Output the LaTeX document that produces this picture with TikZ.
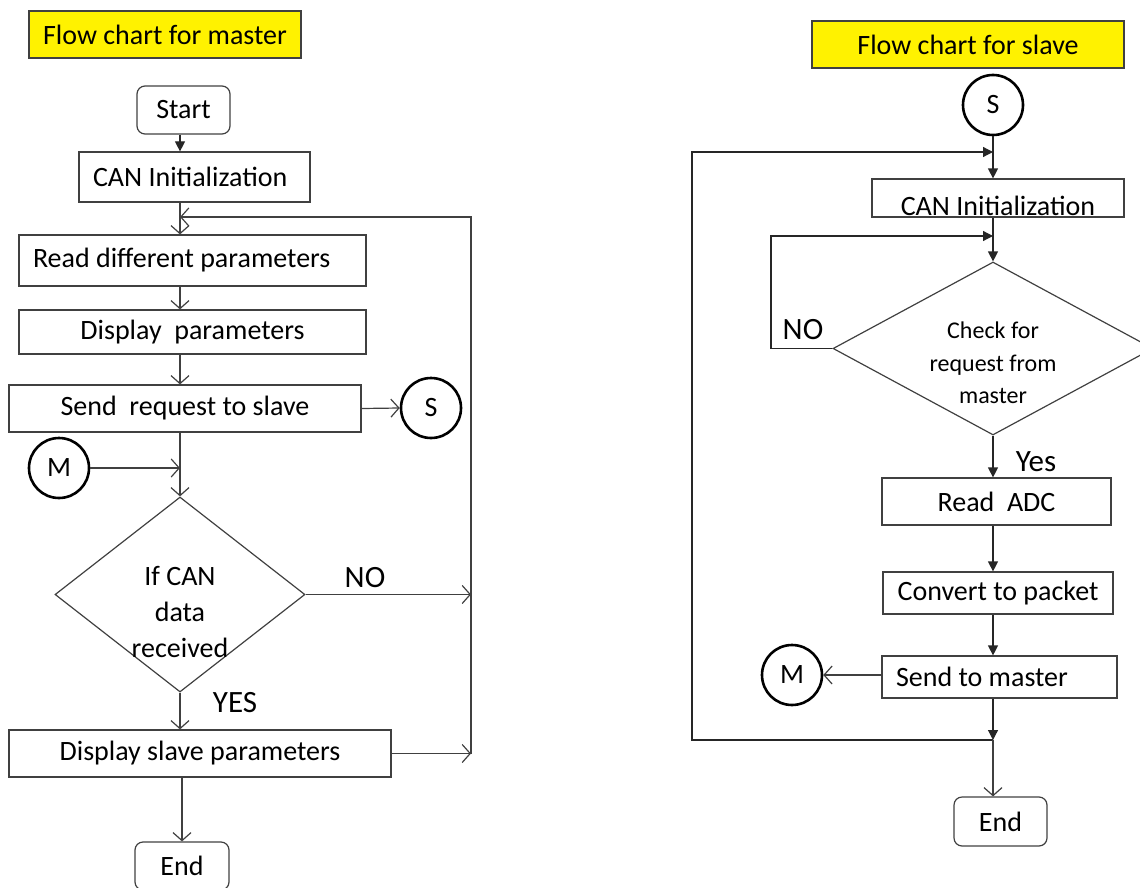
\documentclass[tikz,border=0pt]{standalone}
\usepackage{fontspec}
\setmainfont{Carlito}
\usetikzlibrary{shapes.geometric,arrows.meta}

\begin{document}
\begin{tikzpicture}[x=0.5pt,y=-0.5pt,line width=0.6pt,
  every node/.style={font=\fontsize{14}{18}\selectfont},
  box/.style={draw=black!75,rectangle,inner sep=0pt},
  lbox/.style={box,align=flush left,inner xsep=7pt},
  term/.style={box,rounded corners=4pt},
  head/.style={box,fill=yellow},
  conn/.style={draw=black,circle,line width=1.3pt,minimum size=30pt,inner sep=0pt},
  decision/.style={draw=black!75,diamond,inner sep=0pt},
  answer/.style={font=\fontsize{15.5}{18}\selectfont},
  op/.style={-{Straight Barb[length=4pt,width=9pt]},draw=black!75},
  fl/.style={-{Triangle[length=5pt,width=5pt]},draw=black!85}]
\useasboundingbox (0,0) rectangle (1140,888);

\node[head,minimum width=136pt,minimum height=23.5pt] (titleM) at (165,34.5) {Flow chart for master};
\node[term,minimum width=46.5pt,minimum height=24pt] (start) at (183.5,110) {Start};
\node[lbox,text width=101.5pt,minimum height=25pt] (canM) at (194.5,177) {CAN Initialization};
\node[lbox,text width=159.5pt,minimum height=25.5pt] (readM) at (192.5,260.5) {Read different parameters};
\node[box,minimum width=173.5pt,minimum height=22pt] (dispM) at (192.5,332) {Display\ \ parameters};
\node[box,minimum width=176pt,minimum height=23.5pt] (sendM) at (185,408.5) {Send\ \ request to slave};
\node[conn] (S) at (431,408) {S};
\node[conn] (M) at (59,468) {M};
\node[decision,minimum width=125pt,minimum height=97.5pt,
  label={[align=center,yshift=-8.5pt]center:If CAN\\data\\received}] (decM) at (180,594.5) {};
\node[answer] (noM) at (365,578) {NO};
\node[answer] (yesM) at (235,703) {YES};
\node[box,minimum width=191pt,minimum height=23.5pt] (dslave) at (200,753.5) {Display slave parameters};
\node[term,minimum width=47pt,minimum height=24pt] (endM) at (182,866) {End};
\coordinate (rtop) at (471,217);

\draw[fl] (start.south -| decM) -- (canM.north -| decM);
\draw[op] (canM.south -| decM) -- (readM.north -| decM);
\draw[op] (readM.south -| decM) -- (dispM.north -| decM);
\draw[op] (dispM.south -| decM) -- (sendM.north -| decM);
\draw[op] (sendM.south -| decM) -- (decM.north);
\draw[op] (sendM.east) -- (S.west);
\draw[op] (M) -- (M -| decM);
\draw[op] (decM.south) -- (dslave.north -| decM);
\draw[op] (decM.east) -- (decM.east -| rtop);
\draw[op] (dslave.east) -- (dslave.east -| rtop);
\draw[op] (dslave.east -| rtop) -- (rtop) -- (rtop -| decM);
\draw[op] (dslave.south -| endM) -- (endM.north);

\node[head,minimum width=156pt,minimum height=23.5pt] (titleS) at (968,44.5) {Flow chart for slave};
\node[conn] (Ssl) at (993,105) {S};
\node[box,minimum width=126pt,minimum height=19pt,text height=17pt,text depth=0pt] (canS) at (998,198) {CAN Initialization};
\node[decision,minimum width=160pt,minimum height=86.5pt,
  label={[align=center,yshift=-7.25pt,font=\fontsize{12}{16.25}\selectfont]center:Check for\\request from\\master}] (decS) at (993,348.5) {};
\node[answer] (noS) at (803,330) {NO};
\node[answer] (yesS) at (1036,462) {Yes};
\node[box,minimum width=114.5pt,minimum height=23.5pt] (readS) at (996.5,501.5) {Read\ \ ADC};
\node[box,minimum width=115pt,minimum height=21pt] (convS) at (998,593) {Convert to packet};
\node[lbox,text width=103.5pt,minimum height=21pt] (sendS) at (999.5,677) {Send to master};
\node[conn] (Msl) at (792,675) {M};
\node[term,minimum width=46.5pt,minimum height=24.5pt] (endS) at (1000.5,821.5) {End};
\coordinate (jS) at (993,740);
\coordinate (lS) at (692,740);
\coordinate (tS) at (993,152);
\coordinate (nS) at (771,236);

\draw[fl] (Ssl) -- (canS.north -| Ssl);
\draw[fl] (jS) -- (lS) |- (tS);
\draw[fl] (canS.south -| decS) -- (decS.north);
\draw[fl] (decS.west) -| (nS) -- (nS -| decS);
\draw[fl] (decS.south) -- (readS.north -| decS);
\draw[fl] (readS.south -| decS) -- (convS.north -| decS);
\draw[fl] (convS.south -| decS) -- (sendS.north -| decS);
\draw[op] (sendS.west |- Msl) -- (Msl);
\draw[fl] (sendS.south -| decS) -- (jS);
\draw[op] (jS) -- (endS.north -| jS);
\end{tikzpicture}
\end{document}
